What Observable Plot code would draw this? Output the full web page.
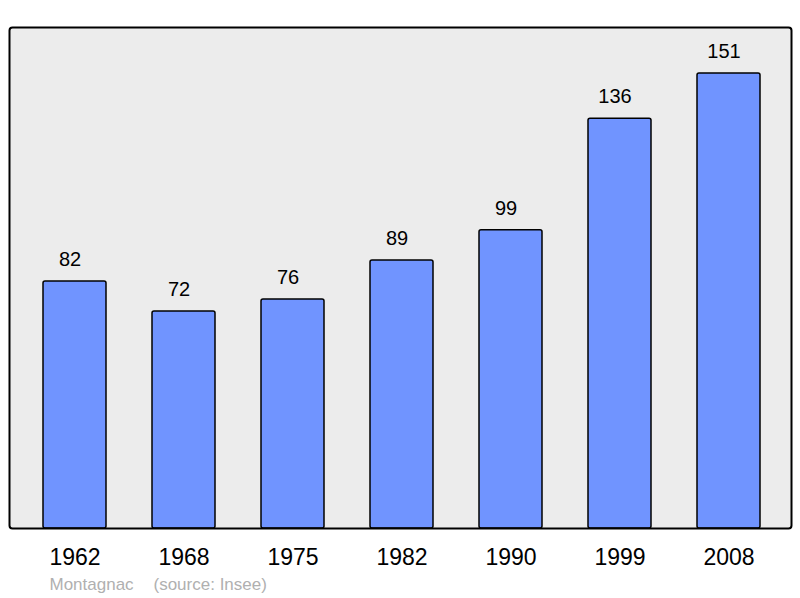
<!DOCTYPE html>
<html><head><meta charset="utf-8">
<script src="https://cdn.jsdelivr.net/npm/d3@7"></script>
<script src="https://cdn.jsdelivr.net/npm/@observablehq/plot@0.6"></script>
<style>body{margin:0;background:#fff;} svg{display:block;}</style>
</head><body><div id="chart"></div>
<script>
const years = ["1962","1968","1975","1982","1990","1999","2008"];
const population = [82,72,76,89,99,136,151];
const commune = "Montagnac";
const source = "(source: Insee)";

const data = years.map((y,i)=>({year:y, pop:population[i]}));

const chart = Plot.plot({
  width: 800, height: 598,
  marginLeft: 9, marginRight: 9, marginTop: 27, marginBottom: 70,
  style: {fontFamily: "'Liberation Sans', Arial, sans-serif", background: "#fff"},
  x: {domain: years, range: [18, 784], paddingInner: 0.424, paddingOuter: 0.212, label: null},
  y: {domain: [0, 166.3], axis: null},
  marks: [
    Plot.frame({fill: "#ececec", stroke: "none", rx: 3}),
    Plot.barY(data, {x: "year", y: "pop", fill: "#7094ff", stroke: "#000", strokeWidth: 1.5, rx: 2}),
    Plot.frame({stroke: "#000", strokeWidth: 2, rx: 3}),
    Plot.text(data, {x: "year", y: "pop", text: d => String(d.pop), dy: -22, dx: -5, fontSize: 20, fill: "#000"}),
    Plot.axisX({tickSize: 0, tickPadding: 20, fontSize: 23, color: "#000"}),
    Plot.text([commune], {frameAnchor: "bottom-left", dx: 40, dy: 61, fontSize: 17, fill: "#b0b0b0", textAnchor: "start", text: d => d}),
    Plot.text([source], {frameAnchor: "bottom-left", dx: 144, dy: 61, fontSize: 17, fill: "#b0b0b0", textAnchor: "start", text: d => d})
  ]
});
document.getElementById("chart").append(chart);
</script></body></html>
